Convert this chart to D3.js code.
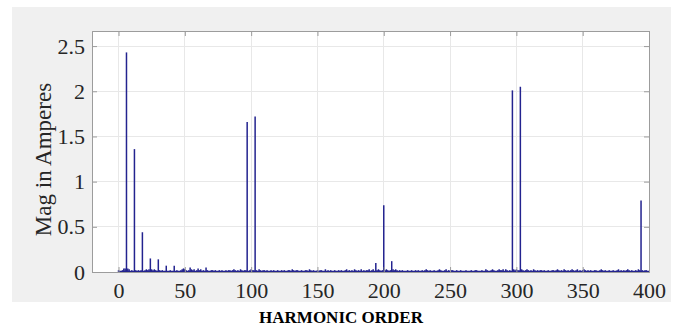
<!DOCTYPE html>
<html>
<head>
<meta charset="utf-8">
<script src="https://cdn.jsdelivr.net/npm/d3@7"></script>
<style>
  html, body { margin: 0; padding: 0; background: #ffffff; }
  svg { display: block; }
</style>
</head>
<body>
<svg id="chart" width="680" height="327"></svg>
<script>
// ---------------- DATA ----------------
const firstOrder = 0;           // harmonic order of the first magnitude value
const magnitude = [             // magnitude in amperes, orders 0..400
  0.02,0.01,0.01,0.02,0.04,0.04,2.43,0.04,0.03,0.01,0.02,0.01,1.36,0.02,0.01,0.02,0.01,0.02,0.44,0.01,
  0.02,0.03,0.02,0.03,0.15,0.03,0.02,0.03,0.02,0.01,0.14,0.02,0.01,0.02,0.01,0.01,0.07,0.01,0.01,0.02,
  0.01,0.01,0.07,0.01,0.02,0.01,0.01,0.02,0.03,0.04,0.03,0.02,0.01,0.02,0.05,0.03,0.02,0.03,0.01,0.02,
  0.04,0.02,0.03,0.01,0.02,0.01,0.05,0.02,0.01,0.01,0.02,0.02,0.01,0.02,0.01,0.01,0.02,0.01,0.02,0.01,
  0.01,0.02,0.01,0.02,0.02,0.01,0.02,0.03,0.02,0.01,0.02,0.01,0.03,0.02,0.01,0.02,0.02,1.66,0.01,0.02,
  0.03,0.02,0.02,1.72,0.02,0.01,0.03,0.02,0.01,0.02,0.02,0.01,0.02,0.01,0.01,0.02,0.01,0.02,0.01,0.01,
  0.02,0.01,0.01,0.02,0.01,0.02,0.01,0.01,0.02,0.02,0.01,0.03,0.02,0.01,0.02,0.02,0.01,0.01,0.02,0.01,
  0.01,0.02,0.02,0.01,0.03,0.02,0.01,0.02,0.01,0.01,0.02,0.01,0.02,0.02,0.01,0.01,0.03,0.01,0.02,0.01,
  0.02,0.01,0.01,0.02,0.01,0.01,0.02,0.01,0.02,0.01,0.01,0.02,0.03,0.01,0.02,0.01,0.02,0.01,0.03,0.02,
  0.01,0.02,0.01,0.03,0.01,0.02,0.01,0.02,0.02,0.03,0.01,0.02,0.03,0.01,0.10,0.02,0.03,0.02,0.01,0.02,
  0.74,0.02,0.03,0.02,0.01,0.02,0.12,0.03,0.02,0.03,0.02,0.01,0.02,0.01,0.02,0.01,0.01,0.01,0.02,0.01,
  0.01,0.02,0.01,0.01,0.02,0.01,0.02,0.01,0.01,0.02,0.01,0.02,0.03,0.02,0.01,0.02,0.01,0.01,0.02,0.01,
  0.01,0.02,0.03,0.02,0.01,0.01,0.02,0.03,0.01,0.02,0.01,0.02,0.02,0.01,0.01,0.02,0.01,0.01,0.02,0.01,
  0.01,0.01,0.02,0.01,0.01,0.01,0.02,0.01,0.01,0.02,0.02,0.01,0.01,0.01,0.02,0.01,0.01,0.03,0.02,0.01,
  0.01,0.02,0.03,0.02,0.01,0.01,0.02,0.03,0.02,0.02,0.03,0.01,0.03,0.02,0.01,0.02,0.01,2.01,0.03,0.02,
  0.03,0.02,0.02,2.05,0.03,0.02,0.01,0.02,0.03,0.02,0.01,0.02,0.01,0.03,0.02,0.01,0.02,0.01,0.02,0.02,
  0.01,0.02,0.01,0.01,0.02,0.01,0.01,0.02,0.02,0.01,0.02,0.03,0.02,0.01,0.02,0.01,0.03,0.02,0.01,0.02,
  0.01,0.02,0.03,0.02,0.01,0.02,0.03,0.01,0.02,0.01,0.02,0.03,0.02,0.01,0.02,0.01,0.02,0.01,0.01,0.02,
  0.02,0.01,0.01,0.02,0.03,0.02,0.01,0.02,0.01,0.01,0.02,0.01,0.01,0.02,0.01,0.01,0.02,0.03,0.01,0.02,
  0.01,0.02,0.01,0.02,0.03,0.02,0.01,0.02,0.01,0.01,0.02,0.01,0.03,0.02,0.79,0.02,0.01,0.02,0.02,0.01,
  0.01
];
const xTicks = [0, 50, 100, 150, 200, 250, 300, 350, 400];
const yTicks = [0, 0.5, 1, 1.5, 2, 2.5];
const xDomain = [-20, 400];
const yDomain = [0, 2.667];
const xLabel = "HARMONIC ORDER";
const yLabel = "Mag in Amperes";

// ---------------- LAYOUT ----------------
const svg = d3.select("#chart");
const plot = { left: 92, right: 649, top: 31, bottom: 272 };
const bg = { x: 12, y: 7, w: 659, h: 295 };

const x = d3.scaleLinear().domain(xDomain).range([plot.left, plot.right]);
const y = d3.scaleLinear().domain(yDomain).range([plot.bottom, plot.top]);

const font = "'Liberation Serif', 'Times New Roman', serif";
const boxColor = "#9c9c9c";
const textColor = "#262626";
const lineColor = "#23238f";

// background figure panel
svg.append("rect")
  .attr("x", bg.x).attr("y", bg.y).attr("width", bg.w).attr("height", bg.h)
  .attr("fill", "#f0f0f0");

// plot area
svg.append("rect")
  .attr("x", plot.left).attr("y", plot.top)
  .attr("width", plot.right - plot.left).attr("height", plot.bottom - plot.top)
  .attr("fill", "#ffffff");

// grid
const grid = svg.append("g");
grid.selectAll("line.gx").data(xTicks).join("line")
  .attr("x1", d => x(d)).attr("x2", d => x(d))
  .attr("y1", plot.top).attr("y2", plot.bottom)
  .attr("stroke", "#e8e8e8").attr("stroke-width", 1).attr("shape-rendering", "crispEdges");
grid.selectAll("line.gy").data(yTicks).join("line")
  .attr("x1", plot.left).attr("x2", plot.right)
  .attr("y1", d => y(d)).attr("y2", d => y(d))
  .attr("stroke", "#e8e8e8").attr("stroke-width", 1).attr("shape-rendering", "crispEdges");

// data: spectrum stems
const data = magnitude.map((v, i) => ({ order: firstOrder + i, mag: v }));
const marks = svg.append("g");
marks.selectAll("line").data(data).join("line")
  .attr("x1", d => x(d.order)).attr("x2", d => x(d.order))
  .attr("y1", y(0)).attr("y2", d => y(d.mag))
  .attr("stroke", lineColor).attr("stroke-width", 1.5);
// zero line under the stems
marks.append("line")
  .attr("x1", x(data[0].order)).attr("x2", x(data[data.length - 1].order))
  .attr("y1", y(0) - 0.5).attr("y2", y(0) - 0.5)
  .attr("stroke", lineColor).attr("stroke-width", 1.6);

// axes (ticks inward on all four sides)
const tickLen = 5;
const axB = d3.axisBottom(x).tickValues(xTicks).tickSize(-tickLen).tickPadding(10).tickFormat(d3.format("d"));
const axT = d3.axisTop(x).tickValues(xTicks).tickSize(-tickLen).tickFormat("");
const axL = d3.axisLeft(y).tickValues(yTicks).tickSize(-tickLen).tickPadding(7).tickFormat(d => String(d));
const axR = d3.axisRight(y).tickValues(yTicks).tickSize(-tickLen).tickFormat("");

function styleAxis(g) {
  g.select(".domain").attr("stroke", boxColor).attr("stroke-width", 1);
  g.selectAll(".tick line").attr("stroke", boxColor);
  g.selectAll(".tick text").attr("fill", textColor)
    .style("font-family", font).style("font-size", "22px");
}

svg.append("g").attr("transform", `translate(0,${plot.bottom})`).call(axB).call(styleAxis);
svg.append("g").attr("transform", `translate(0,${plot.top})`).call(axT).call(styleAxis);
svg.append("g").attr("transform", `translate(${plot.left},0)`).call(axL).call(styleAxis);
svg.append("g").attr("transform", `translate(${plot.right},0)`).call(axR).call(styleAxis);

// labels
svg.append("text")
  .attr("x", 341).attr("y", 323)
  .attr("text-anchor", "middle")
  .style("font-family", font).style("font-size", "17px").style("font-weight", "bold")
  .attr("fill", "#000")
  .text(xLabel);

svg.append("text")
  .attr("transform", `translate(51,${(plot.top + plot.bottom) / 2 + 8}) rotate(-90)`)
  .attr("text-anchor", "middle")
  .style("font-family", font).style("font-size", "23px")
  .attr("fill", textColor)
  .text(yLabel);
</script>
</body>
</html>
